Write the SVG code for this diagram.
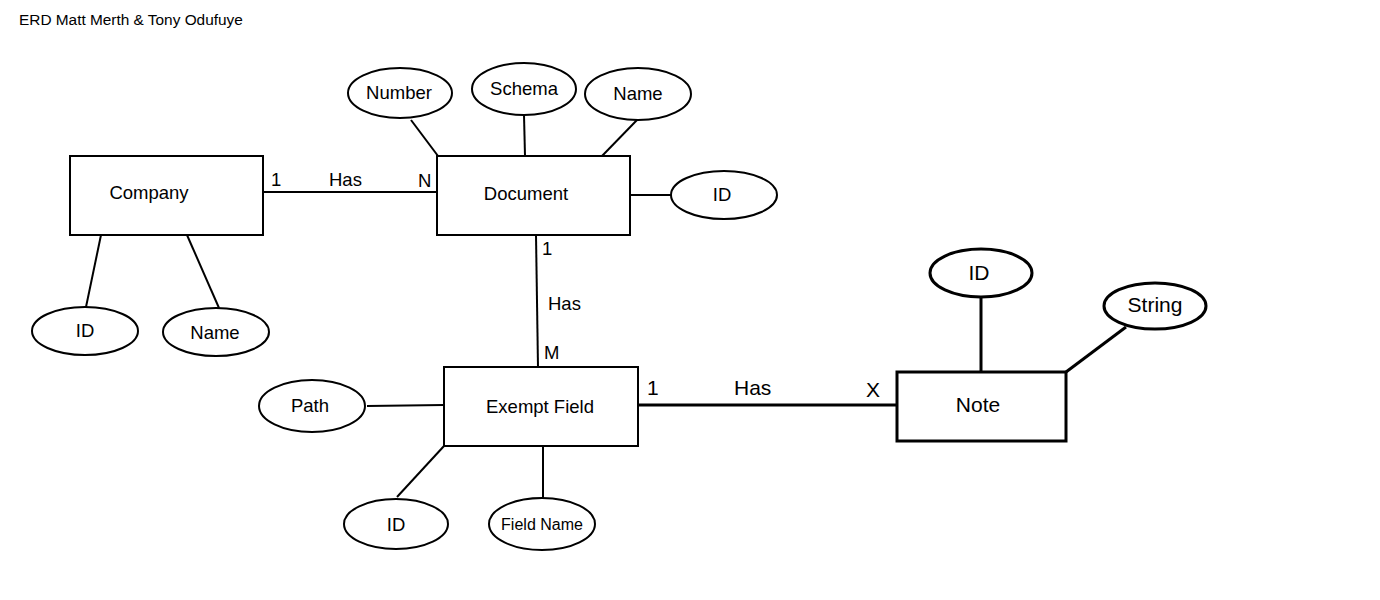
<svg xmlns="http://www.w3.org/2000/svg" width="1380" height="600" viewBox="0 0 1380 600">
<style>
text{font-family:"Liberation Sans",Arial,sans-serif;fill:#000}
.ent{fill:#fff;stroke:#000;stroke-width:2}
.att{fill:#fff;stroke:#000;stroke-width:2}
.thick{stroke-width:3}
.lbl{font-size:18.5px;text-anchor:middle}
.card{font-size:18.5px}
.big{font-size:21px}
.small{font-size:16px}
line{stroke:#000;stroke-width:2}
</style>
<rect width="1380" height="600" fill="#fff"/>
<text x="19" y="25" font-size="15.4">ERD Matt Merth &amp; Tony Odufuye</text>
<g id="connectors">
<line x1="263" y1="192" x2="437" y2="192"/>
<line x1="411" y1="120" x2="438" y2="156"/>
<line x1="524" y1="115" x2="525" y2="156"/>
<line x1="637" y1="120" x2="602" y2="156"/>
<line x1="630" y1="195" x2="671" y2="195"/>
<line x1="101" y1="235" x2="86" y2="307"/>
<line x1="187" y1="235" x2="219" y2="308"/>
<line x1="536" y1="235" x2="538" y2="367"/>
<line x1="367" y1="406" x2="444" y2="405"/>
<line x1="444" y1="446" x2="397" y2="497"/>
<line x1="543" y1="446" x2="543" y2="498"/>
<line class="thick" x1="638" y1="405" x2="897" y2="405"/>
<line class="thick" x1="981" y1="297" x2="981" y2="372"/>
<line class="thick" x1="1126" y1="327" x2="1066" y2="372"/>
<text class="card" x="271" y="186">1</text>
<text class="card" x="329" y="186">Has</text>
<text class="card" x="418" y="187">N</text>
<text class="card" x="542" y="255">1</text>
<text class="card" x="548" y="310">Has</text>
<text class="card" x="544" y="359">M</text>
<text class="card big" x="647" y="395">1</text>
<text class="card big" x="734" y="395">Has</text>
<text class="card big" x="866" y="397">X</text>
</g>
<g id="company"><rect class="ent" x="70" y="156" width="193" height="79"/><text class="lbl" x="149" y="199">Company</text></g>
<g id="document"><rect class="ent" x="437" y="156" width="193" height="79"/><text class="lbl" x="526" y="200">Document</text></g>
<g id="exempt-field"><rect class="ent" x="444" y="367" width="194" height="79"/><text class="lbl" x="540" y="413">Exempt Field</text></g>
<g id="note"><rect class="ent thick" x="897" y="372" width="169" height="69"/><text class="lbl big" x="978" y="412">Note</text></g>
<g id="doc-number"><ellipse class="att" cx="400" cy="93" rx="52" ry="25"/><text class="lbl" x="399" y="99">Number</text></g>
<g id="doc-schema"><ellipse class="att" cx="524" cy="89" rx="52" ry="26"/><text class="lbl" x="524" y="95">Schema</text></g>
<g id="doc-name"><ellipse class="att" cx="638" cy="94" rx="53" ry="26"/><text class="lbl" x="638" y="100">Name</text></g>
<g id="doc-id"><ellipse class="att" cx="724" cy="195" rx="53" ry="24"/><text class="lbl" x="722" y="201">ID</text></g>
<g id="company-id"><ellipse class="att" cx="85" cy="331" rx="53" ry="24"/><text class="lbl" x="85" y="337">ID</text></g>
<g id="company-name"><ellipse class="att" cx="216" cy="332" rx="53" ry="24"/><text class="lbl" x="215" y="339">Name</text></g>
<g id="ef-path"><ellipse class="att" cx="312" cy="406" rx="53" ry="26"/><text class="lbl" x="310" y="412">Path</text></g>
<g id="ef-id"><ellipse class="att" cx="396" cy="524" rx="52" ry="25"/><text class="lbl" x="396" y="531">ID</text></g>
<g id="ef-fieldname"><ellipse class="att" cx="542" cy="524" rx="53" ry="26"/><text class="lbl small" x="542" y="530">Field Name</text></g>
<g id="note-id"><ellipse class="att thick" cx="981" cy="273" rx="51" ry="24"/><text class="lbl big" x="979" y="280">ID</text></g>
<g id="note-string"><ellipse class="att thick" cx="1155" cy="306" rx="51" ry="23"/><text class="lbl big" x="1155" y="312">String</text></g>
</svg>
